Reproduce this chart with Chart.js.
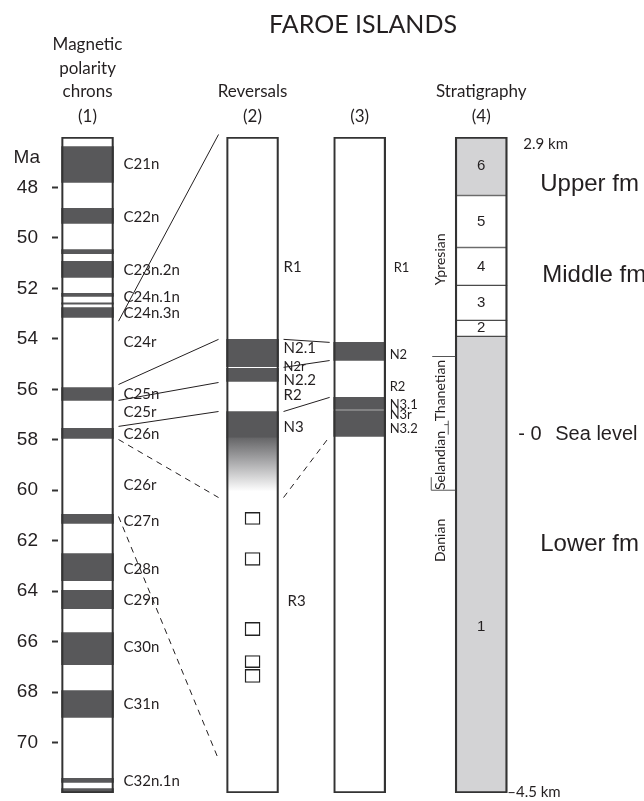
<!DOCTYPE html>
<html>
<head>
<meta charset="utf-8">
<script src="https://cdn.jsdelivr.net/npm/chart.js@4.4.1/dist/chart.umd.min.js"></script>
<style>
  html, body { margin: 0; padding: 0; background: #fff; }
</style>
</head>
<body>
<canvas id="faroe_chart" width="644" height="801"></canvas>
<script>
// age axis (Ma), top of the columns to the bottom
const maMin = 46
const maMax = 72
const maTicks = [48, 50, 52, 54, 56, 58, 60, 62, 64, 66, 68, 70]

// column centres on the (hidden) x scale, 0..100
const columnX = [5.1, 33.6, 52.1, 73.1]
const columnHeads = [['Magnetic', 'polarity', 'chrons', '(1)'], ['Reversals', '(2)'], ['(3)'], ['Stratigraphy', '(4)']]

// (1) magnetic polarity chrons: normal intervals
const chronTop = [46.38, 48.83, 50.46, 50.93, 52.2, 52.57, 52.76, 55.93, 57.55, 60.96, 62.51, 63.97, 65.64, 67.94, 71.42, 71.82]
const chronBase = [47.8, 49.43, 50.62, 51.57, 52.32, 52.63, 53.15, 56.44, 57.95, 61.32, 63.58, 64.69, 66.91, 69.0, 71.58, 72]
const chronNames = ['C21n', 'C22n', 'C23n.2n', 'C24n.1n', 'C24n.3n', 'C24r', 'C25n', 'C25r', 'C26n', 'C26r', 'C27n', 'C28n', 'C29n', 'C30n', 'C31n', 'C32n.1n']
const chronNameAt = [47.09, 49.19, 51.29, 52.36, 52.99, 54.14, 56.2, 56.92, 57.79, 59.81, 61.24, 63.14, 64.37, 66.23, 68.49, 71.54]

// (2) reversals
const rev2Top = [54.02, 55.17, 56.88]
const rev2Base = [55.1, 55.69, 57.9]
const fadeTop = 57.9
const fadeBase = 60.05
const sampleTop = [60.88, 62.47, 65.24, 66.55, 67.1]
const sampleBase = [61.36, 62.98, 65.76, 67.03, 67.62]
const rev2Names = ['R1', 'N2.1', 'N2r', 'N2.2', 'R2', 'N3', 'R3']
const rev2NameAt = [51.17, 54.38, 55.1, 55.65, 56.24, 57.51, 64.41]

// (3)
const rev3Top = [54.14, 56.32, 56.84]
const rev3Base = [54.86, 56.8, 57.87]
const rev3Names = ['R1', 'N2', 'R2', 'N3.1', 'N3r', 'N3.2']
const rev3NameAt = [51.17, 54.62, 55.89, 56.6, 57.0, 57.55]

// (4) stratigraphy
const unitNames = ['6', '5', '4', '3', '2', '1']
const unitTop = [46, 48.32, 50.38, 51.88, 53.27, 53.9]
const unitBase = [48.32, 50.38, 51.88, 53.27, 53.9, 72]
const unitShaded = [true, false, false, false, false, true]
const unitNameAt = [47.16, 49.35, 51.13, 52.58, 53.58, 65.4]
const stageNames = ['Ypresian', 'Thanetian', 'Selandian', 'Danian']
const stageNameAt = [50.85, 56.05, 58.82, 61.99]
const stageBounds = [54.7, 57.4, 60.0]
const sideNames = ['2.9 km', 'Upper fm', 'Middle fm', '- 0', 'Sea level', 'Lower fm', '\u20134.5 km']
const sideNameAt = [46.3, 47.87, 51.48, 57.81, 57.81, 62.13, 71.96]

// tie lines between columns: [from column, Ma at left column, Ma at right column, dashed]
const tieFrom = [0, 0, 0, 0, 0, 0, 1, 1, 1, 1]
const tieLeftMa = [53.3, 55.81, 56.44, 57.47, 57.99, 61.04, 54.02, 55.13, 56.88, 60.29]
const tieRightMa = [45.9, 54.02, 55.73, 56.88, 60.29, 70.67, 54.14, 54.86, 56.32, 57.87]
const tieDashed = [false, false, false, false, true, true, false, false, false, true]

const dark = '#58585a'
const ink = '#231f20'
const shade = '#d3d3d5'
const barWidth = 52
const sans = 'Lato, "Open Sans", sans-serif'
const arial = '"Liberation Sans", Arial, sans-serif'

const bars = (col, tops, bases) => tops.map((t, i) => ({ x: columnX[col], y: [t, bases[i]] }))

const fadeFill = ctx => {
  const chart = ctx.chart
  if (!chart.chartArea) return dark
  const y = chart.scales.y
  const g = chart.ctx.createLinearGradient(0, y.getPixelForValue(fadeTop), 0, y.getPixelForValue(fadeBase))
  g.addColorStop(0, '#646466')
  g.addColorStop(0.45, '#a9a9ab')
  g.addColorStop(1, '#ffffff')
  return g
}

const labelsPlugin = {
  id: 'labels',
  afterDatasetsDraw(chart) {
    const { ctx } = chart
    const xs = chart.scales.x
    const ys = chart.scales.y
    const py = v => ys.getPixelForValue(v)
    const left = i => xs.getPixelForValue(columnX[i]) - barWidth / 2
    const right = i => xs.getPixelForValue(columnX[i]) + barWidth / 2
    const centre = i => xs.getPixelForValue(columnX[i])
    const text = (s, x, y, font, align = 'left', base = 'middle') => {
      ctx.font = font
      ctx.textAlign = align
      ctx.textBaseline = base
      ctx.fillText(s, x, y)
    }
    ctx.save()
    ctx.fillStyle = ink

    // title and column heads
    text('FAROE ISLANDS', 363, 33, '25px ' + sans, 'center', 'alphabetic')
    const headBase = [122, 97, 74, 50]
    columnHeads.forEach((lines, i) => {
      lines.slice().reverse().forEach((s, k) => {
        text(s, centre(i), headBase[k], '17px ' + sans, 'center', 'alphabetic')
      })
    })
    text('Ma', 40, py(46.81), '19px ' + arial, 'right')

    // tie lines
    ctx.strokeStyle = ink
    ctx.lineWidth = 1
    tieFrom.forEach((c, i) => {
      ctx.setLineDash(tieDashed[i] ? [6, 5] : [])
      ctx.beginPath()
      ctx.moveTo(right(c) + 5, py(tieLeftMa[i]))
      ctx.lineTo(left(c + 1) - (c === 0 ? 8 : 4), py(tieRightMa[i]))
      ctx.stroke()
    })
    ctx.setLineDash([])

    // column labels
    chronNames.forEach((s, i) => text(s, right(0) + 10, py(chronNameAt[i]), '15px ' + sans))
    rev2Names.forEach((s, i) => {
      const small = s === 'N2r'
      text(s, right(1) + (s === 'R3' ? 9 : 5), py(rev2NameAt[i]), (small ? '13px ' : '15px ') + sans)
    })
    rev3Names.forEach((s, i) => text(s, right(2) + (s === 'R1' ? 8 : 4), py(rev3NameAt[i]), '13px ' + sans))
    unitNames.forEach((s, i) => text(s, centre(3), py(unitNameAt[i]), '15px ' + arial, 'center'))

    // stages beside column 4
    const l4 = left(3)
    stageNames.forEach((s, i) => {
      ctx.save()
      ctx.translate(l4 - 15, py(stageNameAt[i]))
      ctx.rotate(-Math.PI / 2)
      text(s, 0, 0, '14px ' + sans, 'center')
      ctx.restore()
    })
    ctx.strokeStyle = '#555'
    ctx.beginPath()
    ctx.moveTo(l4 - 23, py(stageBounds[0])); ctx.lineTo(l4, py(stageBounds[0]))
    ctx.moveTo(l4 - 7, py(stageBounds[1]) - 4); ctx.lineTo(l4 - 7, py(stageBounds[1]) + 10)
    ctx.moveTo(l4 - 11, py(stageBounds[1])); ctx.lineTo(l4 - 7, py(stageBounds[1]))
    ctx.moveTo(l4 - 24, py(stageBounds[2]) - 13); ctx.lineTo(l4 - 24, py(stageBounds[2]))
    ctx.moveTo(l4 - 24, py(stageBounds[2])); ctx.lineTo(l4, py(stageBounds[2]))
    ctx.stroke()

    // right-hand notes
    const r4 = right(3)
    const sideX = [r4 + 16, r4 + 33, r4 + 35, r4 + 11, r4 + 48, r4 + 33, r4]
    const sideFont = ['15px ' + sans, '24px ' + arial, '24px ' + arial, '20px ' + arial, '20px ' + arial, '24px ' + arial, '15px ' + sans]
    sideNames.forEach((s, i) => text(s, sideX[i], py(sideNameAt[i]), sideFont[i]))
    ctx.restore()
  }
}

new Chart(document.querySelector('#faroe_chart'), {
  type: 'bar',
  data: {
    datasets: [
      { data: columnX.map(x => ({ x, y: [maMin, maMax] })), backgroundColor: '#fff', order: 10 },
      { data: bars(0, chronTop, chronBase), backgroundColor: dark, order: 5 },
      { data: bars(1, rev2Top, rev2Base), backgroundColor: dark, order: 5 },
      { data: [{ x: columnX[1], y: [fadeTop, fadeBase] }], backgroundColor: fadeFill, order: 5 },
      { data: bars(2, rev3Top, rev3Base), backgroundColor: dark, order: 5 },
      {
        data: bars(3, unitTop, unitBase),
        backgroundColor: unitShaded.map(s => s ? shade : '#fff'),
        borderColor: '#4a4a4a', borderWidth: 1, order: 5
      },
      {
        data: bars(1, sampleTop, sampleBase),
        backgroundColor: '#fff', borderColor: '#222', borderWidth: 1.4, barThickness: 15, order: 4
      },
      {
        data: columnX.map(x => ({ x, y: [maMin, maMax] })),
        backgroundColor: 'rgba(0,0,0,0)', borderColor: '#333', borderWidth: 1.5, order: 0
      }
    ]
  },
  options: {
    responsive: false,
    animation: false,
    events: [],
    datasets: { bar: { grouped: false, barThickness: barWidth, borderSkipped: false } },
    layout: { padding: { top: 137, bottom: 8, right: 7, left: 0 } },
    plugins: {
      legend: { display: false },
      title: { display: false },
      tooltip: { enabled: false }
    },
    scales: {
      x: { type: 'linear', min: 0, max: 100, display: false, offset: false },
      y: {
        min: maMin,
        max: maMax,
        reverse: true,
        afterBuildTicks: axis => { axis.ticks = maTicks.map(v => ({ value: v })) },
        afterFit: axis => { axis.width = 58; axis.paddingTop = 0; axis.paddingBottom = 0 },
        border: { display: false },
        grid: { drawOnChartArea: false, drawTicks: true, tickLength: 6, tickWidth: 2, tickColor: '#333' },
        ticks: { padding: 14, color: ink, font: { family: '"Liberation Sans", Arial, sans-serif', size: 19 } }
      }
    }
  },
  plugins: [labelsPlugin]
})
</script>
</body>
</html>
